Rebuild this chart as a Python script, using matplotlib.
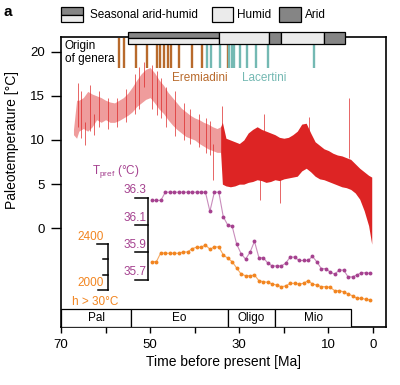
import numpy as np
import matplotlib.pyplot as plt
from matplotlib.patches import Rectangle
from matplotlib.transforms import blended_transform_factory

plt.rcParams['font.family'] = 'Liberation Sans'
plt.rcParams['mathtext.default'] = 'regular'

# paleotemperature band (Ma, upper / lower deg C)
red_t = [67.2, 66.5, 66, 65, 64, 63, 62, 61, 60, 59, 58, 57, 56, 55, 54, 53,
         52, 51, 50, 49, 48, 47, 46, 45, 44, 43, 42, 41, 40, 39, 38, 37, 36,
         35, 34.2, 33.8, 33, 32, 31, 30, 29, 28, 27, 26, 25, 24, 23, 22, 21,
         20, 19, 18, 17, 16, 15, 14, 13, 12, 11, 10, 9, 8, 7, 6, 5, 4, 3, 2,
         1, 0.3]
red_hi = [11.2, 14.5, 14.5, 14.8, 15.5, 15.2, 15.0, 14.8, 14.5, 14.3, 14.2,
          14.5, 14.8, 15.3, 16.0, 16.8, 17.5, 18.0, 18.2, 17.6, 16.8, 16.2,
          15.4, 14.8, 14.2, 13.6, 13.2, 12.8, 12.5, 12.3, 12.0, 11.8, 11.5,
          11.3, 11.5, 12.0, 10.2, 10.0, 9.8, 9.6, 10.0, 10.8, 11.2, 11.5, 11.2,
          11.0, 10.8, 10.6, 10.3, 10.2, 10.3, 10.6, 11.0, 11.8, 11.9, 10.8,
          9.8, 9.4, 9.0, 8.8, 8.5, 8.3, 8.2, 8.0, 7.8, 7.3, 6.8, 6.4, 6.0, 5.8]
red_lo = [10.6, 10.2, 11.0, 11.3, 11.0, 11.5, 12.3, 12.0, 12.3, 12.0, 12.0,
          12.2, 12.5, 12.8, 13.2, 13.8, 14.2, 14.6, 14.8, 14.2, 13.5, 13.0,
          12.3, 11.7, 11.2, 10.8, 10.4, 10.2, 10.0, 9.6, 9.3, 9.0, 8.8, 8.6,
          8.6, 5.0, 4.8, 4.7, 4.8, 5.0, 5.0, 5.2, 5.3, 5.5, 5.4, 5.2, 5.3, 5.5,
          5.4, 5.6, 5.7, 5.8, 5.9, 6.5, 6.8, 6.4, 5.9, 5.6, 5.5, 5.3, 5.1, 4.9,
          4.7, 4.6, 4.4, 4.0, 3.3, 2.0, 0.3, -1.8]

# single excursions in the record
spike_t = [66.2, 65.5, 64.6, 63.5, 62.6, 61.5, 59.5, 57.5, 55.5, 53.5, 52.5,
           51.3, 49.5, 48.5, 47.5, 46.5, 44.5, 42.5, 41, 39, 37.5, 36.5, 35.9,
           33.9, 25.3, 24.4, 20.9, 14.4, 5.4]
spike_lo = [11.5, 10.2, 9.4, 11.0, 10.6, 11.5, 11.2, 11.5, 12.0, 13.0, 13.5,
            16.0, 13.5, 12.8, 12.5, 11.5, 10.5, 10.0, 9.6, 9.2, 8.5, 8.3, 5.5,
            10.0, 3.2, 10.0, 2.9, 11.0, 8.0]
spike_hi = [16.5, 15.5, 12.0, 16.2, 13.0, 15.5, 14.8, 14.8, 15.8, 17.5, 18.3,
            18.8, 18.5, 17.8, 17.0, 16.0, 15.5, 14.2, 13.5, 13.0, 12.5, 12.2,
            9.5, 13.8, 6.0, 13.0, 6.0, 12.6, 14.7]

# origin of genera (Ma)
erem_t = [57.1, 55.8, 53.2, 50.6, 48.4, 47.8, 46.8, 46.1, 45.3, 43.5, 40.7,
          38.3, 32.6]
lac_t = [37.3, 36.4, 34.3, 32.3, 31.7, 31.2, 29.8, 28.2, 26.3, 23.6, 13.2]

# preferred temperature and hours above 30 degC
pref_t = np.arange(49.6, 0.5, -1.0)
t_pref = [36.28, 36.28, 36.28, 36.34, 36.34, 36.34, 36.34, 36.34, 36.34,
          36.34, 36.34, 36.34, 36.34, 36.20, 36.34, 36.34, 36.16, 36.10,
          36.09, 35.96, 35.89, 35.85, 35.90, 35.98, 35.86, 35.86, 35.82,
          35.80, 35.80, 35.80, 35.82, 35.865, 35.865, 35.84, 35.84, 35.84,
          35.87, 35.83, 35.78, 35.78, 35.755, 35.74, 35.77, 35.77, 35.72,
          35.72, 35.735, 35.75, 35.75, 35.745]
h30 = [2246, 2246, 2324, 2319, 2319, 2319, 2319, 2330, 2330, 2359, 2371, 2371,
       2391, 2354, 2374, 2374, 2305, 2276, 2246, 2191, 2139, 2124, 2124, 2130,
       2081, 2072, 2067, 2052, 2043, 2029, 2035, 2058, 2058, 2052, 2058, 2081,
       2052, 2043, 2029, 2029, 2023, 1994, 1994, 1985, 1965, 1950, 1928, 1928,
       1919, 1913]

# climate phases and epochs (Ma)
clim_edges = [54.9, 34.5, 23.3, 20.6, 10.9, 6.4]
clim_kind = ['seasonal', 'humid', 'arid', 'humid', 'arid']
epoch_edges = [70, 54.2, 32.6, 21.9, 4.9]
epoch_names = ['Pal', 'Eo', 'Oligo', 'Mio']

RED = '#dd2424'
PURPLE = '#a5418f'
ORANGE = '#f28520'
BROWN = '#b86a2c'
TEAL = '#74b9b3'
DARK = '#858585'
LIGHT = '#ebebeb'


def to_main_pref(v):
    return 3.47 + (np.asarray(v) - 36.3) * 15.47


def to_main_h(v):
    return -1.77 + (np.asarray(v) - 2400) * 0.01305


fig = plt.figure(figsize=(4, 3.85), dpi=100)
ax = fig.add_axes([0.1525, 0.1506, 0.8125, 0.7525])

# paleotemperature
red_t = np.array(red_t)
sparse = red_t >= 34.2
dense = red_t <= 34.2
ax.fill_between(red_t[sparse], np.array(red_lo)[sparse],
                np.array(red_hi)[sparse], color=RED, alpha=0.45, lw=0)
ax.fill_between(red_t[dense], np.array(red_lo)[dense],
                np.array(red_hi)[dense], color=RED, lw=0)
ax.vlines(spike_t, spike_lo, spike_hi, color=RED, lw=0.7, alpha=0.7)

# origin of genera
ax.vlines(erem_t, 18.1, 21.6, color=BROWN, lw=1.7)
ax.vlines(lac_t, 18.1, 21.6, color=TEAL, lw=1.7)
ax.text(69.2, 21.3, 'Origin\nof genera', fontsize=8.5, va='top', ha='left',
        linespacing=1.05)
ax.text(45.1, 17.0, 'Eremiadini', color=BROWN, fontsize=8.5, va='center')
ax.text(29.4, 17.0, 'Lacertini', color=TEAL, fontsize=8.5, va='center')

# preferred temperature series with its own scale
ax.plot(pref_t, to_main_pref(t_pref), color=PURPLE, lw=0.8, alpha=0.6)
ax.plot(pref_t, to_main_pref(t_pref), 'o', color=PURPLE, ms=2.8, mew=0)
pref_ticks = [36.3, 36.1, 35.9, 35.7]
ax.plot([50.55, 50.55], to_main_pref([36.3, 35.7]), color='k', lw=1.1)
for v in pref_ticks:
    y = to_main_pref(v)
    ax.plot([53.3, 50.55], [y, y], color='k', lw=1.1)
    ax.text(50.9, y + 0.15, f'{v:.1f}', color=PURPLE, fontsize=8.5,
            ha='right', va='bottom')
ax.text(63.0, 6.4, 'T$_{pref}$ (°C)', color=PURPLE, fontsize=8.5,
        va='center', ha='left')

# hours above 30 degC with its own scale
ax.plot(pref_t, to_main_h(h30), color=ORANGE, lw=0.8, alpha=0.7)
ax.plot(pref_t, to_main_h(h30), 'o', color=ORANGE, ms=2.8, mew=0)
ax.plot([59.4, 59.4], to_main_h([2400, 2000]), color='k', lw=1.1)
for v, x0 in zip([2400, 2267, 2133, 2000], [61.9, 60.5, 60.5, 61.7]):
    y = to_main_h(v)
    ax.plot([x0, 59.4], [y, y], color='k', lw=1.1)
for v in [2400, 2000]:
    ax.text(60.3, to_main_h(v) + 0.15, str(v), color=ORANGE, fontsize=8.5,
            ha='right', va='bottom')
ax.text(67.6, -8.3, 'h > 30°C', color=ORANGE, fontsize=8.5, va='center',
        ha='left')

ax.set_xlim(70, -2.9)
ax.set_ylim(-11.18, 21.63)
ax.set_xticks([70, 60, 50, 40, 30, 20, 10, 0])
ax.set_xticklabels(['70', '', '50', '', '30', '', '10', '0'])
ax.set_yticks([0, 5, 10, 15, 20])
ax.tick_params(axis='x', length=4.5, width=1.0, labelsize=9.5, pad=4)
ax.tick_params(axis='y', length=7.5, width=1.0, labelsize=9.5, pad=4)
for s in ax.spines.values():
    s.set_linewidth(1.2)
ax.set_xlabel('Time before present [Ma]', fontsize=10, labelpad=3)
ax.set_ylabel('Paleotemperature [°C]', fontsize=10)
ax.yaxis.set_label_coords(-0.128, 0.645)

# epoch boxes along the bottom
tr = blended_transform_factory(ax.transData, ax.transAxes)
for i, name in enumerate(epoch_names):
    x0, x1 = epoch_edges[i], epoch_edges[i + 1]
    ax.add_patch(Rectangle((x0, 0), x1 - x0, 0.062, transform=tr,
                           facecolor='white', edgecolor='k', lw=0.9,
                           zorder=3))
    ax.text((x0 + x1) / 2, 0.031, name, transform=tr, ha='center',
            va='center', fontsize=8.5, zorder=4)

# climate bar over the top spine
for i, kind in enumerate(clim_kind):
    x0, x1 = clim_edges[i], clim_edges[i + 1]
    if kind == 'seasonal':
        ax.add_patch(Rectangle((x0, 0.9965), x1 - x0, 0.0201, transform=tr,
                               facecolor=DARK, edgecolor='k', lw=0.9,
                               clip_on=False, zorder=5))
        ax.add_patch(Rectangle((x0, 0.9786), x1 - x0, 0.0179, transform=tr,
                               facecolor=LIGHT, edgecolor='k', lw=0.9,
                               clip_on=False, zorder=5))
    else:
        ax.add_patch(Rectangle((x0, 0.9786), x1 - x0, 0.038, transform=tr,
                               facecolor=DARK if kind == 'arid' else LIGHT,
                               edgecolor='k', lw=0.9, clip_on=False,
                               zorder=5))

# legend for the climate bar
fig.add_artist(Rectangle((61 / 400, 1 - 14.5 / 385), 22 / 400, 7.5 / 385,
                         transform=fig.transFigure, facecolor=DARK,
                         edgecolor='k', lw=0.9))
fig.add_artist(Rectangle((61 / 400, 1 - 22 / 385), 22 / 400, 7.5 / 385,
                         transform=fig.transFigure, facecolor=LIGHT,
                         edgecolor='k', lw=0.9))
fig.add_artist(Rectangle((212 / 400, 1 - 22 / 385), 21 / 400, 15 / 385,
                         transform=fig.transFigure, facecolor=LIGHT,
                         edgecolor='k', lw=0.9))
fig.add_artist(Rectangle((279 / 400, 1 - 22 / 385), 22 / 400, 15 / 385,
                         transform=fig.transFigure, facecolor=DARK,
                         edgecolor='k', lw=0.9))
ly = 1 - 15 / 385
fig.text(90 / 400, ly, 'Seasonal arid-humid', fontsize=8.5, va='center')
fig.text(237 / 400, ly, 'Humid', fontsize=8.5, va='center')
fig.text(305 / 400, ly, 'Arid', fontsize=8.5, va='center')
fig.text(3 / 400, 1 - 12 / 385, 'a', fontsize=11, fontweight='bold',
         va='center')

fig.savefig('out.png', dpi=100)
